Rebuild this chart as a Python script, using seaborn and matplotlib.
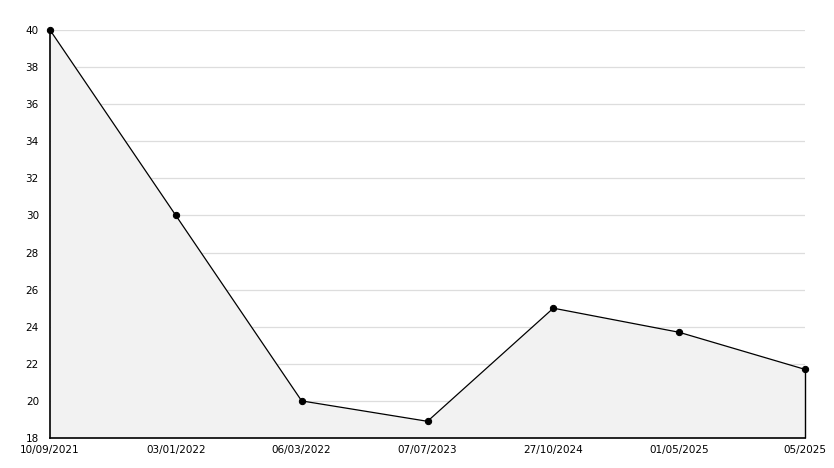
import matplotlib
matplotlib.use("Agg")
import matplotlib.pyplot as plt
import seaborn as sns
import pandas as pd
import numpy as np
from matplotlib.ticker import MultipleLocator

dates = ["10/09/2021", "03/01/2022", "06/03/2022", "07/07/2023",
         "27/10/2024", "01/05/2025", "05/2025"]
values = [40, 30, 20, 18.9, 25, 23.7, 21.7]

df = pd.DataFrame({"pos": np.arange(len(dates)), "value": values})

sns.set_style("white")
plt.rcParams["font.family"] = ["DejaVu Sans"]

fig = plt.figure(figsize=(8.34, 4.68), dpi=100)
ax = fig.add_axes([50 / 834, 30 / 468, 755 / 834, 408 / 468])

ymin, ymax = 18, 40
ax.fill_between(df["pos"], df["value"], ymin, color="#f2f2f2", zorder=1, linewidth=0)
ax.vlines(df["pos"].iloc[-1], ymin, df["value"].iloc[-1], color="black",
          linewidth=1.0, zorder=3, clip_on=False)
sns.lineplot(data=df, x="pos", y="value", ax=ax, color="black", linewidth=0.9,
             marker="o", markersize=4.5, markeredgecolor="black", zorder=6,
             clip_on=False)

ax.set_xlim(0, len(dates) - 1)
ax.set_ylim(ymin, ymax)
ax.set_xticks(df["pos"])
ax.set_xticklabels(dates)
ax.yaxis.set_major_locator(MultipleLocator(2))
ax.yaxis.set_minor_locator(MultipleLocator(1))
ax.set_xlabel("")
ax.set_ylabel("")

ax.grid(axis="y", which="major", color="#dddddd", linewidth=0.9, zorder=0)
ax.set_axisbelow(True)
for s in ["top", "right"]:
    ax.spines[s].set_visible(False)
for s in ["left", "bottom"]:
    ax.spines[s].set_color("black")
    ax.spines[s].set_linewidth(1.2)
    ax.spines[s].set_zorder(5)

ax.tick_params(axis="both", which="major", direction="in", length=5, width=1,
               color="black", labelsize=7.5, labelcolor="black")
ax.tick_params(axis="y", which="minor", direction="in", length=3.5, width=1, color="black")
ax.tick_params(axis="y", which="major", pad=8)
ax.tick_params(axis="x", which="major", pad=5)

fig.savefig("out.png", dpi=100)
